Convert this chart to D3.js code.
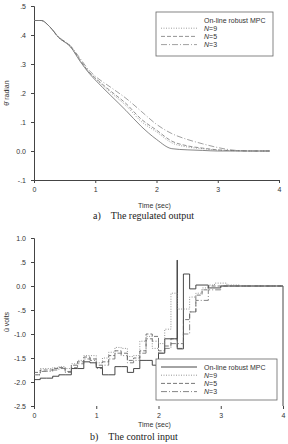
<!DOCTYPE html>
<html>
<head>
<meta charset="utf-8">
<script src="https://d3js.org/d3.v7.min.js"></script>
<style>
  body { margin: 0; background: #fff; }
  svg { display: block; font-family: Arial, "Liberation Sans", sans-serif; }
  .tick text { font-size: 7px; fill: #333; }
  .caption { font-family: "Liberation Serif", "DejaVu Serif", serif; font-size: 10px; fill: #222; }
</style>
</head>
<body>
<div id="viz"></div>
<script>
// ---- data ----
const seriesNames = ["On-line robust MPC", "N=9", "N=5", "N=3"];

// a) regulated output
const outT  = [0, 0.12, 0.25, 0.4, 0.6, 0.75, 0.9, 1.0, 1.25, 1.5, 1.75, 2.0, 2.25, 2.5, 2.75, 3.0, 3.3, 3.6, 3.85];
const outOnline = [0.45, 0.45, 0.43, 0.392, 0.358, 0.31, 0.268, 0.245, 0.192, 0.14, 0.085, 0.04, 0.008, 0.004, 0.002, 0.0, 0.0, 0.0, 0.0];
const outN9 = [0.45, 0.45, 0.43, 0.392, 0.358, 0.312, 0.27, 0.25, 0.202, 0.157, 0.102, 0.066, 0.028, 0.014, 0.008, 0.003, 0.001, 0, 0];
const outN5 = [0.45, 0.45, 0.43, 0.392, 0.36, 0.315, 0.272, 0.252, 0.207, 0.164, 0.11, 0.072, 0.034, 0.018, 0.01, 0.004, 0.001, 0, 0];
const outN3 = [0.45, 0.45, 0.43, 0.394, 0.362, 0.32, 0.278, 0.258, 0.22, 0.182, 0.137, 0.092, 0.06, 0.04, 0.025, 0.012, 0.002, 0, 0];
const outTicksY = [0.5, 0.4, 0.3, 0.2, 0.1, 0.0, -0.1];
const outTickLabels = [".5", ".4", ".3", ".2", ".1", "0.0", "-.1"];

// b) control input (piecewise constant)
const baseT = [0, 0.1, 0.2, 0.3, 0.4, 0.5, 0.6, 0.7, 0.8, 0.9, 1.0, 1.1, 1.2, 1.3, 1.4, 1.5, 1.6, 1.7, 1.8, 1.9, 2.0, 2.1];
const inOnlineT = baseT.concat([2.3, 2.301, 2.4, 2.5, 2.6, 2.8, 3.0, 4.0]);
const inOnline  = [-1.95, -1.92, -1.92, -1.88, -1.85, -1.85, -1.72, -1.72, -1.58, -1.60, -1.70, -1.85, -1.85, -1.68, -1.68, -1.80, -1.72, -1.55, -1.55, -1.65, -1.40, -1.10,
                   0.54, -1.31, 0.25, -0.06, 0.02, -0.04, 0.0, -2.5];
const inN9T = baseT.concat([2.2, 2.3, 2.4, 2.5, 2.6, 2.7, 2.8, 2.9, 3.1, 3.3, 4.0]);
const inN9  = [-1.85, -1.72, -1.72, -1.70, -1.68, -1.72, -1.62, -1.55, -1.45, -1.45, -1.60, -1.50, -1.38, -1.28, -1.30, -1.47, -1.45, -1.15, -1.05, -1.30, -1.20, -0.90,
               -0.15, -0.48, -0.48, -0.23, -0.15, -0.04, 0.02, 0.06, 0.02, 0.0, 0.0];
const inN5T = baseT.concat([2.2, 2.3, 2.4, 2.5, 2.6, 2.7, 2.8, 4.0]);
const inN5  = [-1.80, -1.75, -1.75, -1.72, -1.70, -1.78, -1.65, -1.58, -1.48, -1.52, -1.65, -1.58, -1.45, -1.35, -1.40, -1.55, -1.50, -1.35, -1.00, -1.05, -1.35, -1.25,
               -1.10, -1.30, -0.70, -0.54, -0.19, -0.08, 0.0, 0.0];
const inN3T = baseT.concat([2.2, 2.4, 2.5, 2.6, 2.8, 3.0, 4.0]);
const inN3  = [-1.85, -1.78, -1.78, -1.75, -1.72, -1.80, -1.70, -1.62, -1.52, -1.55, -1.72, -1.65, -1.52, -1.40, -1.45, -1.60, -1.55, -1.40, -1.10, -1.15, -1.40, -1.30,
               -1.20, -1.00, -0.54, -0.30, -0.08, 0.0, 0.0];
const inTicksY = [1.0, 0.5, 0.0, -0.5, -1.0, -1.5, -2.0, -2.5];
const inTickLabels = ["1.0", ".5", "0.0", "-.5", "-1.0", "-1.5", "-2.0", "-2.5"];

const timeTicks = [0, 1, 2, 3, 4];

// ---- drawing ----
const stylesA = [
  { stroke: "#555", dash: null, w: 0.7 },
  { stroke: "#888", dash: "1,1.5", w: 0.8 },
  { stroke: "#666", dash: "4,2", w: 0.7 },
  { stroke: "#777", dash: "6,2,1,2", w: 0.7 }
];
const stylesB = [
  { stroke: "#333", dash: null, w: 0.9 },
  { stroke: "#888", dash: "1,1.5", w: 0.9 },
  { stroke: "#555", dash: "4,2", w: 0.8 },
  { stroke: "#666", dash: "6,2,1,2", w: 0.8 }
];

const svg = d3.select("#viz").append("svg")
  .attr("width", 288).attr("height", 444);

function yAxis(g, y, ticks, labels) {
  g.call(d3.axisLeft(y).tickValues(ticks).tickSize(3).tickPadding(5)
      .tickFormat((d, i) => labels[i]));
  g.select(".domain").attr("stroke", "#444");
  g.selectAll(".tick line").attr("stroke", "#444");
}

function legend(x0, y0, w, h, styles, firstLine) {
  const lg = svg.append("g").attr("transform", `translate(${x0},${y0})`);
  lg.append("rect").attr("width", w).attr("height", h)
    .attr("fill", "#fff").attr("stroke", "#666").attr("stroke-width", 0.8);
  seriesNames.forEach((n, i) => {
    const yy = 10 + i * 8.2;
    if (i > 0 || firstLine)
      lg.append("line").attr("x1", 5).attr("x2", 41).attr("y1", yy - 2).attr("y2", yy - 2)
        .attr("stroke", styles[i].stroke).attr("stroke-width", styles[i].w)
        .attr("stroke-dasharray", styles[i].dash);
    const t = lg.append("text").attr("x", 48).attr("y", yy + 0.5)
      .attr("font-size", 7).attr("fill", "#333");
    if (i === 0) t.text(n);
    else {
      t.append("tspan").attr("font-style", "italic").text("N");
      t.append("tspan").text(n.slice(1));
    }
  });
}

// ---- panel a ----
const xa = d3.scaleLinear().domain([0, 4]).range([34, 279]);
const ya = d3.scaleLinear().domain([-0.1, 0.5]).range([180, 6]);

svg.append("g").attr("transform", "translate(0,180)")
  .call(d3.axisBottom(xa).tickValues(timeTicks).tickSize(3).tickPadding(4).tickFormat(d3.format("d")))
  .call(g => { g.select(".domain").attr("stroke", "#444"); g.selectAll(".tick line").attr("stroke", "#444"); });
svg.append("g").attr("transform", "translate(34,0)")
  .call(g => yAxis(g, ya, outTicksY, outTickLabels));

const lineA = d3.line().x(d => xa(d[0])).y(d => ya(d[1])).curve(d3.curveMonotoneX);
[outOnline, outN9, outN5, outN3].forEach((vals, i) => {
  svg.append("path").datum(outT.map((t, j) => [t, vals[j]]))
    .attr("d", lineA).attr("fill", "none")
    .attr("stroke", stylesA[i].stroke).attr("stroke-width", stylesA[i].w)
    .attr("stroke-dasharray", stylesA[i].dash);
});

legend(156, 12, 117, 44, stylesA, false);

svg.append("text").attr("x", 138).attr("y", 208).attr("font-size", 7).attr("fill", "#333").text("Time (sec)");
svg.append("text").attr("transform", "translate(9,93) rotate(-90)").attr("text-anchor", "middle")
  .attr("font-size", 7).attr("fill", "#333").text("θ̄ radian");
svg.append("text").attr("class", "caption").attr("x", 93).attr("y", 219).text("a)\u2003The regulated output");

// ---- panel b ----
const xb = d3.scaleLinear().domain([0, 4]).range([34, 283]);
const yb = d3.scaleLinear().domain([-2.5, 1.0]).range([406, 238]);

svg.append("g").attr("transform", "translate(0,406)")
  .call(d3.axisBottom(xb).tickValues(timeTicks).tickSize(3).tickPadding(4).tickFormat(d3.format("d")))
  .call(g => { g.select(".domain").remove(); g.selectAll(".tick line").attr("stroke", "#444"); });
svg.append("g").attr("transform", "translate(34,0)")
  .call(g => yAxis(g, yb, inTicksY, inTickLabels));

const lineB = d3.line().x(d => xb(d[0])).y(d => yb(d[1])).curve(d3.curveStepAfter);
[[inOnlineT, inOnline], [inN9T, inN9], [inN5T, inN5], [inN3T, inN3]].forEach(([ts, vals], i) => {
  svg.append("path").datum(ts.map((t, j) => [t, vals[j]]))
    .attr("d", lineB).attr("fill", "none")
    .attr("stroke", stylesB[i].stroke).attr("stroke-width", stylesB[i].w)
    .attr("stroke-dasharray", stylesB[i].dash);
});

legend(156, 359, 121, 41, stylesB, true);

svg.append("text").attr("x", 138).attr("y", 427).attr("font-size", 7).attr("fill", "#333").text("Time (sec)");
svg.append("text").attr("transform", "translate(9,322) rotate(-90)").attr("text-anchor", "middle")
  .attr("font-size", 7).attr("fill", "#333").text("ū volts");
svg.append("text").attr("class", "caption").attr("x", 90).attr("y", 440).text("b)\u2003The control input");
</script>
</body>
</html>
